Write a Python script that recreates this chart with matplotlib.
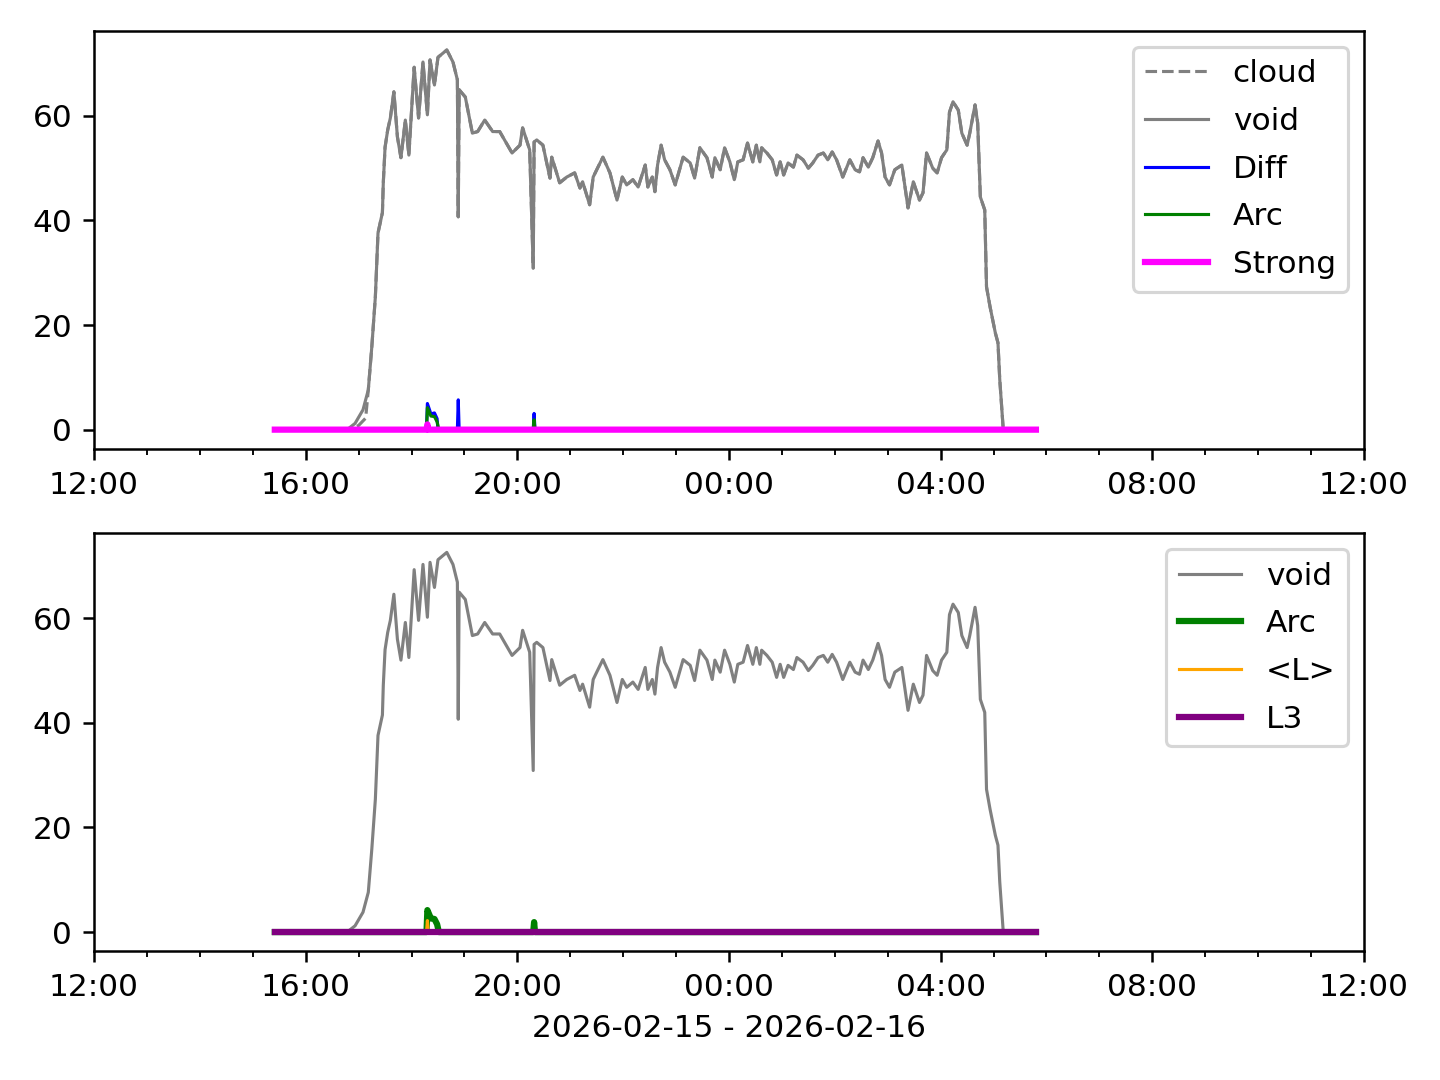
import matplotlib
matplotlib.use('Agg')
import matplotlib.pyplot as plt
import matplotlib.dates as mdates
import numpy as np
from datetime import datetime, timedelta

###################################################################################################

DAY = datetime(2026, 2, 15)

# void sky brightness trace
void_times = ['15:25', '16:47', '16:56', '17:05', '17:11', '17:15', '17:19', '17:22', '17:27', '17:28',
              '17:30', '17:33', '17:36', '17:40', '17:44', '17:48', '17:53', '17:57', '18:03', '18:08',
              '18:13', '18:18', '18:21', '18:26', '18:30', '18:40', '18:47', '18:52', '18:53', '18:54',
              '19:01', '19:09', '19:15', '19:23', '19:32', '19:40', '19:54', '20:03', '20:06', '20:14',
              '20:18', '20:19', '20:22', '20:29', '20:37', '20:39', '20:48', '20:56', '21:05', '21:11',
              '21:14', '21:22', '21:26', '21:30', '21:37', '21:45', '21:53', '21:59', '22:04', '22:11',
              '22:17', '22:25', '22:28', '22:33', '22:36', '22:39', '22:43', '22:47', '22:53', '22:59',
              '23:08', '23:16', '23:21', '23:27', '23:35', '23:41', '23:44', '23:50', '23:55', '00:01',
              '00:06', '00:10', '00:16', '00:21', '00:27', '00:31', '00:35', '00:37', '00:43', '00:49',
              '00:54', '00:58', '01:02', '01:07', '01:13', '01:17', '01:24', '01:30', '01:35', '01:41',
              '01:47', '01:52', '01:57', '02:02', '02:09', '02:17', '02:23', '02:28', '02:32', '02:38',
              '02:43', '02:49', '02:53', '02:57', '03:02', '03:08', '03:16', '03:23', '03:29', '03:36',
              '03:40', '03:44', '03:51', '03:56', '04:01', '04:07', '04:10', '04:14', '04:20', '04:24',
              '04:30', '04:33', '04:39', '04:42', '04:45', '04:50', '04:52', '04:56', '05:02', '05:05',
              '05:07', '05:11', '05:48']
void_values = [0.0, 0.0, 1.2, 3.8, 7.6, 15.9, 25.4, 37.6, 41.5, 47.2,
               54.0, 57.3, 59.6, 64.6, 56.0, 52.0, 59.2, 52.5, 69.3, 59.6,
               70.3, 60.2, 70.7, 65.9, 71.2, 72.6, 70.3, 66.9, 40.7, 65.0,
               63.6, 56.7, 57.0, 59.2, 57.0, 57.0, 52.9, 54.4, 57.7, 53.5,
               30.9, 55.0, 55.4, 54.4, 48.1, 52.1, 47.2, 48.3, 49.1, 46.2,
               47.4, 43.0, 48.3, 49.7, 52.1, 49.1, 43.9, 48.3, 46.8, 47.8,
               46.4, 50.6, 46.4, 48.3, 45.5, 50.6, 54.4, 51.6, 49.7, 46.8,
               52.1, 51.0, 48.1, 53.9, 52.0, 48.3, 52.0, 49.7, 53.9, 51.2,
               47.8, 51.2, 51.6, 54.8, 51.2, 54.4, 51.2, 53.9, 52.9, 51.6,
               48.7, 51.2, 48.7, 51.0, 50.2, 52.5, 51.6, 50.0, 51.0, 52.5,
               52.9, 51.6, 53.1, 51.6, 48.3, 51.6, 49.7, 49.3, 52.0, 50.2,
               52.0, 55.2, 52.9, 48.3, 46.8, 49.7, 50.6, 42.4, 47.4, 43.9,
               45.3, 52.9, 50.0, 49.1, 52.0, 53.5, 60.7, 62.7, 61.1, 56.7,
               54.4, 56.7, 62.1, 58.6, 44.5, 42.0, 27.3, 23.5, 18.5, 16.6,
               9.6, 0.0, 0.0]

# cloud follows void except where it lags during the rise
cloud_times = ['15:25', '16:50', '17:00', '17:08', '17:11']
cloud_values = [0.0, 0.0, 0.8, 2.2, 7.6]

diff_times = ['15:25', '18:17', '18:18', '18:22', '18:26', '18:29', '18:30', '18:52', '18:53', '18:54',
              '20:18', '20:19', '20:20', '05:48']
diff_values = [0.0, 0.0, 5.0, 3.0, 3.2, 2.1, 0.0, 0.0, 5.7, 0.0,
               0.0, 3.1, 0.0, 0.0]

arc_times = ['15:25', '18:17', '18:18', '18:22', '18:26', '18:29', '18:31', '20:18', '20:19', '20:20', '05:48']
arc_values = [0.0, 0.0, 4.2, 2.6, 2.5, 1.5, 0.0, 0.0, 1.9, 0.0, 0.0]

strong_times = ['15:25', '18:17', '18:18', '18:19', '05:48']
strong_values = [0.0, 0.0, 1.0, 0.0, 0.0]

l_times = ['15:25', '18:17', '18:18', '18:19', '05:48']
l_values = [0.0, 0.0, 2.2, 0.0, 0.0]

l3_times = ['15:25', '05:48']
l3_values = [0.0, 0.0]

###################################################################################################

def to_dt(hhmm):
    # times before noon belong to the next day
    h, m = map(int, hhmm.split(':'))
    d = DAY if h >= 12 else DAY + timedelta(days=1)
    return d.replace(hour=h, minute=m)

def dts(times):
    return [to_dt(t) for t in times]

def format_axis(ax):
    ax.set_xlim(DAY.replace(hour=12), DAY + timedelta(days=1, hours=12))
    ax.xaxis.set_major_locator(mdates.HourLocator(byhour=range(0, 24, 4)))
    ax.xaxis.set_minor_locator(mdates.HourLocator())
    ax.xaxis.set_major_formatter(mdates.DateFormatter('%H:%M'))

void_x = dts(void_times)
cloud_x = dts(cloud_times) + void_x[4:]
cloud_y = cloud_values + void_values[4:]

fig, (ax1, ax2) = plt.subplots(2, 1, figsize=(6.4, 4.8), dpi=225)

ax1.plot(cloud_x, cloud_y, color='gray', linestyle='--', linewidth=1, label='cloud')
ax1.plot(void_x, void_values, color='gray', linewidth=1, label='void')
ax1.plot(dts(diff_times), diff_values, color='blue', linewidth=1, label='Diff')
ax1.plot(dts(arc_times), arc_values, color='green', linewidth=1, label='Arc')
ax1.plot(dts(strong_times), strong_values, color='magenta', linewidth=2, label='Strong')
ax1.legend(loc='upper right', labelspacing=0.6)
format_axis(ax1)

ax2.plot(void_x, void_values, color='gray', linewidth=1, label='void')
ax2.plot(dts(arc_times), arc_values, color='green', linewidth=2, label='Arc')
ax2.plot(dts(l_times), l_values, color='orange', linewidth=1, label='<L>')
ax2.plot(dts(l3_times), l3_values, color='purple', linewidth=2, label='L3')
ax2.legend(loc='upper right', labelspacing=0.6)
format_axis(ax2)
ax2.set_xlabel('2026-02-15 - 2026-02-16')

plt.subplots_adjust(left=0.0653, right=0.9472, top=0.9713, bottom=0.1194, hspace=0.203)
plt.savefig('out.png')
